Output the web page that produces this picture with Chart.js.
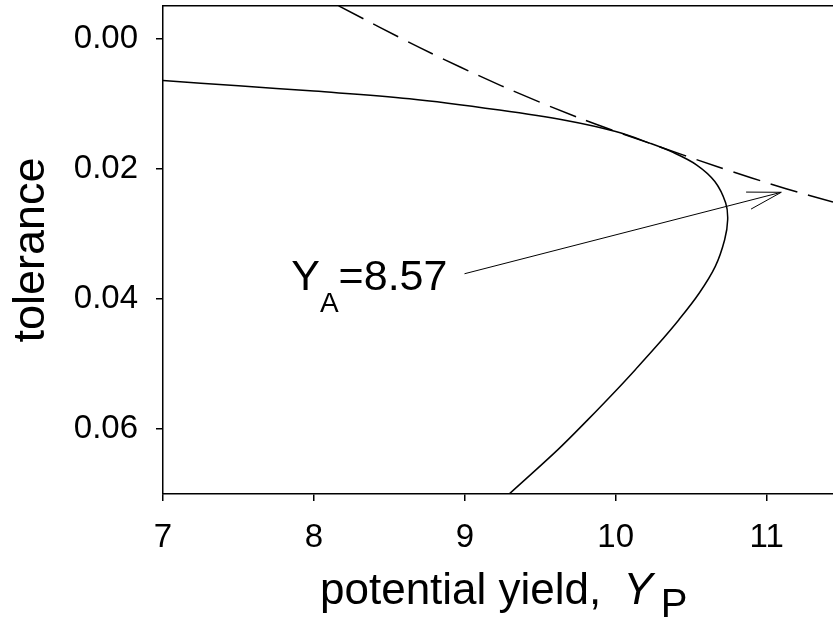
<!DOCTYPE html>
<html><head><meta charset="utf-8">
<script src="https://cdn.jsdelivr.net/npm/chart.js@4/dist/chart.umd.min.js"></script>
<style>html,body{margin:0;padding:0;background:#fff;overflow:hidden}canvas{display:block}</style>
</head><body>
<canvas id="c" width="833" height="628"></canvas>
<script>
// ---- data ----
const curveYield = [7.00, 7.50, 8.00, 8.634, 9.23, 9.672, 10.00, 10.225, 10.376, 10.535, 10.657, 10.729, 10.742, 10.722, 10.660, 10.554, 10.419, 10.269, 10.130, 10.007, 9.816, 9.617, 9.297];
const curveTolerance = [0.00645, 0.00727, 0.00808, 0.00926, 0.0110, 0.0126, 0.0143, 0.01607, 0.01745, 0.0194, 0.02197, 0.02528, 0.02785, 0.03092, 0.03502, 0.03911, 0.04321, 0.04731, 0.05089, 0.05397, 0.05857, 0.06318, 0.06994];
const envelopeYield = [8.164, 8.705, 9.243, 9.760, 10.225, 10.675, 11.129, 11.44];
const envelopeTolerance = [-0.00502, 0.00144, 0.00727, 0.01223, 0.0161, 0.0197, 0.02309, 0.02512];
const arrowYield = [8.998, 11.097];
const arrowTolerance = [0.03615, 0.02363];
const arrowHeadYield = [10.864, 11.097, 10.897];
const arrowHeadTolerance = [0.0236, 0.02363, 0.02621];
const xTicks = [7, 8, 9, 10, 11];
const yTicks = [0.00, 0.02, 0.04, 0.06];
const xRange = [7, 11.44];
const yRange = [-0.005, 0.07];
const yAxisTitle = 'tolerance';
const xTitleParts = ['potential yield, ', 'Y', 'P'];
const labelParts = ['Y', 'A', '=8.57'];
const labelAt = { x: 7.85, y: 0.0386 };

const FONT = '"Liberation Sans", Arial, Helvetica, sans-serif';
Chart.defaults.font.family = FONT;
Chart.defaults.color = '#000';

const pts = (xs, ys) => xs.map((v, i) => ({ x: v, y: ys[i] }));

const textPlugin = {
  id: 'texts',
  afterDraw(chart) {
    const { ctx, scales: { x, y }, chartArea } = chart;
    ctx.save();
    ctx.fillStyle = '#000';
    ctx.textAlign = 'left';
    ctx.textBaseline = 'alphabetic';
    // Y_A label
    let px = x.getPixelForValue(labelAt.x);
    const py = y.getPixelForValue(labelAt.y);
    ctx.font = '43px ' + FONT;
    ctx.fillText(labelParts[0], px, py);
    px += ctx.measureText(labelParts[0]).width;
    ctx.font = '28px ' + FONT;
    ctx.fillText(labelParts[1], px, py + 22);
    px += ctx.measureText(labelParts[1]).width;
    ctx.font = '43px ' + FONT;
    ctx.fillText(labelParts[2], px, py);
    // x axis title
    const base = chartArea.bottom + 110;
    let tx = chartArea.left + 157;
    ctx.font = '44px ' + FONT;
    ctx.fillText(xTitleParts[0], tx, base);
    tx += ctx.measureText(xTitleParts[0]).width + 10;
    ctx.font = 'italic 44px ' + FONT;
    ctx.fillText(xTitleParts[1], tx, base);
    tx += ctx.measureText(xTitleParts[1]).width + 8;
    ctx.font = '40px ' + FONT;
    ctx.fillText(xTitleParts[2], tx, base + 13);
    ctx.restore();
  }
};

const lineDs = (data, extra) => Object.assign({
  data, showLine: true, borderColor: '#000', backgroundColor: '#000',
  borderWidth: 1.5, pointRadius: 0, pointHoverRadius: 0, fill: false, tension: 0
}, extra);

new Chart(document.getElementById('c').getContext('2d'), {
  type: 'scatter',
  data: {
    datasets: [
      lineDs(pts(curveYield, curveTolerance), { tension: 0.35 }),
      lineDs(pts(envelopeYield, envelopeTolerance), { tension: 0.3, borderDash: [28, 11] }),
      lineDs(pts(arrowYield, arrowTolerance), { borderWidth: 1 }),
      lineDs(pts(arrowHeadYield, arrowHeadTolerance), { borderWidth: 1 })
    ]
  },
  options: {
    responsive: false, animation: false, devicePixelRatio: 1,
    layout: { padding: 0 },
    plugins: { legend: { display: false }, tooltip: { enabled: false } },
    scales: {
      x: {
        type: 'linear', position: 'bottom', min: xRange[0], max: xRange[1],
        afterBuildTicks: s => { s.ticks = xTicks.map(v => ({ value: v })); },
        afterFit: s => { s.height = 134; s.paddingLeft = 0; s.paddingRight = 0; },
        grid: { display: true, drawOnChartArea: false, drawTicks: true, tickLength: 7, color: '#000', lineWidth: 1.5 },
        border: { display: true, color: '#000', width: 1.5 },
        ticks: { padding: 17, color: '#000', font: { size: 33 }, maxRotation: 0, callback: v => String(v) },
        title: { display: false }
      },
      x2: {
        type: 'linear', position: 'top', min: xRange[0], max: xRange[1],
        afterFit: s => { s.height = 6; s.paddingLeft = 0; s.paddingRight = 0; },
        grid: { display: false },
        ticks: { display: false },
        border: { display: true, color: '#000', width: 1.5 }
      },
      y: {
        type: 'linear', position: 'left', reverse: true, min: yRange[0], max: yRange[1],
        afterBuildTicks: s => { s.ticks = yTicks.map(v => ({ value: v })); },
        afterFit: s => { s.width = 163; s.paddingTop = 0; s.paddingBottom = 0; },
        grid: { display: true, drawOnChartArea: false, drawTicks: true, tickLength: 7, color: '#000', lineWidth: 1.5 },
        border: { display: true, color: '#000', width: 1.5 },
        ticks: { padding: 18, color: '#000', font: { size: 33 }, callback: v => Number(v).toFixed(2) },
        title: { display: true, text: yAxisTitle, color: '#000', font: { size: 45 }, padding: { top: 5, bottom: 0 } }
      }
    }
  },
  plugins: [textPlugin]
});
</script>
</body></html>
